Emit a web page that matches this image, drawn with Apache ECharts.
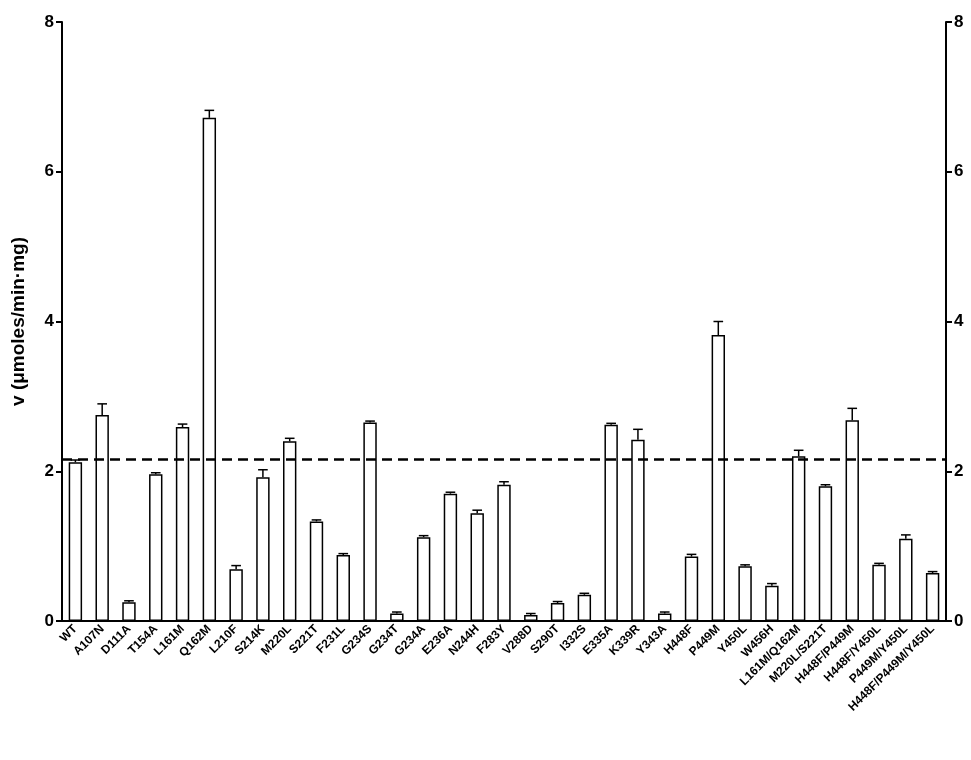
<!DOCTYPE html>
<html>
<head>
<meta charset="utf-8">
<script src="https://cdn.jsdelivr.net/npm/echarts@6/dist/echarts.min.js"></script>
<style>html,body{margin:0;padding:0;background:#fff}#chart{width:971px;height:760px}</style>
</head>
<body>
<div id="chart"></div>
<script>
var categories = ['WT','A107N','D111A','T154A','L161M','Q162M','L210F','S214K','M220L','S221T','F231L','G234S','G234T','G234A','E236A','N244H','F283Y','V288D','S290T','I332S','E335A','K339R','Y343A','H448F','P449M','Y450L','W456H','L161M/Q162M','M220L/S221T','H448F/P449M','H448F/Y450L','P449M/Y450L','H448F/P449M/Y450L'];
var values = [2.12,2.75,0.25,1.96,2.59,6.72,0.69,1.92,2.4,1.33,0.88,2.65,0.1,1.12,1.7,1.44,1.82,0.08,0.24,0.35,2.62,2.42,0.1,0.86,3.82,0.73,0.47,2.2,1.8,2.68,0.75,1.1,0.64];
var errors = [0.03,0.15,0.02,0.02,0.04,0.1,0.05,0.1,0.04,0.02,0.02,0.02,0.02,0.02,0.02,0.04,0.04,0.02,0.02,0.02,0.02,0.14,0.02,0.03,0.18,0.02,0.03,0.08,0.02,0.16,0.02,0.05,0.02];
var wtLevel = 2.16;
var yTicks = [0,2,4,6,8];

var chart = echarts.init(document.getElementById('chart'));
var axisY = {
    type: 'value', min: 0, max: 8, interval: 2,
    axisLine: {show: true, lineStyle: {color: '#000', width: 2}},
    axisTick: {show: true, length: 6, lineStyle: {color: '#000', width: 2}},
    axisLabel: {color: '#000', fontWeight: 'bold', fontSize: 17, fontFamily: 'Arial',
        formatter: function (v) { return yTicks.indexOf(v) >= 0 ? v : ''; }},
    splitLine: {show: false}
};
chart.setOption({
    animation: false,
    grid: {left: 62, right: 25, top: 22, bottom: 139},
    xAxis: {
        type: 'category', data: categories,
        axisLine: {lineStyle: {color: '#000', width: 2}},
        axisTick: {show: false},
        axisLabel: {rotate: 45, interval: 0, color: '#000', fontWeight: 'bold', fontSize: 12, fontFamily: 'Arial', margin: 6}
    },
    yAxis: [
        Object.assign({}, axisY, {name: 'v (\u03bcmoles/min\u00b7mg)', nameLocation: 'middle', nameGap: 34,
            nameTextStyle: {color: '#000', fontWeight: 'bold', fontSize: 19, fontFamily: 'Arial'}}),
        Object.assign({}, axisY, {position: 'right'})
    ],
    series: [{
        type: 'bar', data: values, barWidth: '50%',
        itemStyle: {color: '#fff', borderColor: '#000', borderWidth: 1.5},
        markLine: {silent: true, symbol: 'none', label: {show: false},
            lineStyle: {color: '#000', type: [10, 6], width: 2.5},
            data: [{yAxis: wtLevel}]}
    }, {
        type: 'custom', z: 3,
        data: values.map(function (v, i) { return [i, v, v + errors[i]]; }),
        renderItem: function (params, api) {
            var base = api.coord([api.value(0), api.value(1)]);
            var top = api.coord([api.value(0), api.value(2)]);
            var w = api.size([1, 0])[0] * 0.18;
            var st = {stroke: '#000', lineWidth: 1.5};
            return {type: 'group', children: [
                {type: 'line', shape: {x1: base[0], y1: base[1], x2: top[0], y2: top[1]}, style: st},
                {type: 'line', shape: {x1: top[0] - w, y1: top[1], x2: top[0] + w, y2: top[1]}, style: st}
            ]};
        }
    }]
});
</script>
</body>
</html>
